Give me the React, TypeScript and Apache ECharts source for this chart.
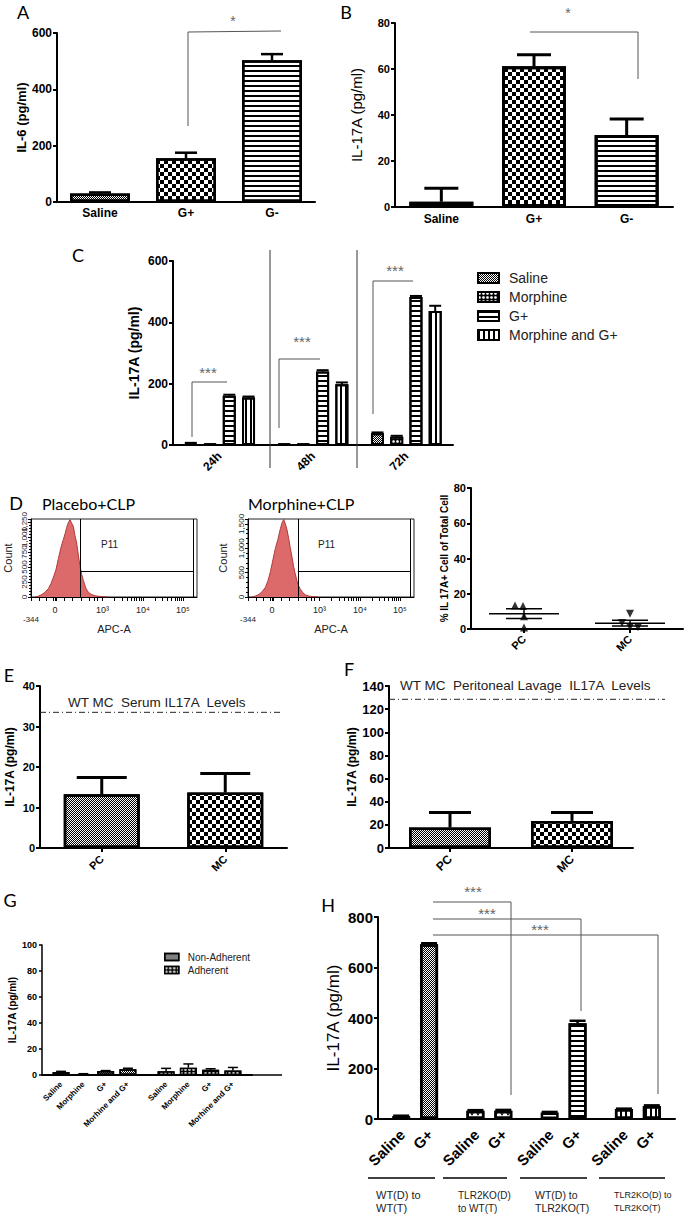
import React, { useEffect, useRef } from "react";
import * as echarts from "echarts";

// ---------------- DATA ----------------
// Panel A
const aCategories = ["Saline", "G+", "G-"];
const aIL6Mean = [30, 155, 503];
const aIL6Sem = [4, 20, 22];
// Panel B
const bCategories = ["Saline", "G+", "G-"];
const bIL17Mean = [2.3, 61.2, 31.3];
const bIL17Sem = [5.8, 5.0, 7.0];
// Panel C
const cTimes = ["24h", "48h", "72h"];
const cGroups = ["Saline", "Morphine", "G+", "Morphine and G+"];
const cSalineMean = [5, 2, 38];
const cMorphineMean = [2, 2, 27];
const cGplusMean = [161, 240, 483];
const cMorphGplusMean = [155, 198, 437];
const cSalineSem = [2, 1, 3];
const cMorphineSem = [1, 1, 3];
const cGplusSem = [3, 4, 3];
const cMorphGplusSem = [3, 6, 17];
// Panel D (flow histograms, APC-A display units 0-100)
const apcPlacebo = [2.5, 4.5, 6.5, 8.5, 10.5, 12, 13.5, 15, 16.5, 18, 19.5, 20.5, 21.5, 22.5, 23.5, 24.5, 25.5, 26.5, 27.5, 28.5, 29.5, 30.5, 31.5, 33, 34.5, 36.5, 39, 42, 46];
const countPlacebo = [0, 15, 40, 80, 140, 220, 330, 450, 640, 820, 960, 1050, 1160, 1240, 1290, 1230, 1180, 1020, 900, 700, 520, 380, 280, 150, 80, 40, 18, 8, 0];
const apcMorphine = [2.5, 4.5, 6.5, 8.5, 10.5, 12, 13.5, 15, 16.5, 18, 19.5, 20.5, 21.5, 22.5, 23.5, 24.5, 25.5, 26.5, 27.5, 28.5, 29.5, 30.5, 31.5, 33, 34.5, 36.5, 39, 42];
const countMorphine = [0, 20, 50, 110, 200, 330, 520, 760, 1000, 1180, 1400, 1520, 1590, 1500, 1380, 1200, 1000, 820, 620, 470, 330, 230, 160, 90, 45, 20, 8, 0];
const apcTickValues = [0, 14.5, 43, 67.5, 91.5];
const apcTickLabels = ["-344", "0", "10³", "10⁴", "10⁵"];
const apcMinorTicks = [0, 5, 9, 13.5, 14.5, 15.5, 20, 25, 30, 35, 38, 40, 43, 50.4, 54.7, 57.8, 60.1, 62.1, 63.7, 65.1, 66.3, 67.5, 74.9, 79.2, 82.3, 84.6, 86.6, 88.2, 89.6, 90.8, 91.5];
const gatePlacebo = [29.5, 97.6, 430];
const gateMorphine = [30, 97.6, 530];
const dGroups = ["PC", "MC"];
const dPcPercent = [13.3, 13.0, 7.2, 0.8];
const dMcPercent = [8.7, 3.4, 1.2, 1.0];
const dPcJitter = [-9, -1, 0, 0];
const dMcJitter = [0, -8, 0, 8];
const dMean = [8.7, 3.3];
const dSem = [2.8, 1.6];
// Panel E
const eGroups = ["PC", "MC"];
const eIL17Mean = [13.3, 13.7];
const eIL17Sem = [4.1, 4.7];
const eWtLevel = 33.5;
// Panel F
const fGroups = ["PC", "MC"];
const fIL17Mean = [17.7, 23.4];
const fIL17Sem = [12.9, 7.2];
const fWtLevel = 128.5;
// Panel G
const gGroups = ["Non-Adherent", "Adherent"];
const gConditions = ["Saline", "Morphine", "G+", "Morhine and G+"];
const gMeans = [
  [2.2, 2.8],
  [0.5, 5.6],
  [3.0, 4.0],
  [4.5, 3.5],
];
const gSems = [
  [0.6, 2.3],
  [0.5, 2.9],
  [0.4, 0.8],
  [0.7, 2.3],
];
// Panel H
const hGroups = ["WT(D) to WT(T)", "TLR2KO(D) to WT(T)", "WT(D) to TLR2KO(T)", "TLR2KO(D) to TLR2KO(T)"];
const hTreatments = ["Saline", "G+"];
const hSalineMean = [12, 33, 26, 40];
const hGplusMean = [692, 33, 379, 51];
const hSalineSem = [1, 2, 2, 1];
const hGplusSem = [4, 3, 10, 3];

// ---------------- STYLE ----------------
const FONT = "'Liberation Sans', Arial, Helvetica, sans-serif";
const CAL = "Lato, 'Open Sans', sans-serif";

const decalFine = { symbol: "rect", symbolSize: 1, dashArrayX: [[1, 1], [0, 1, 1, 0]], dashArrayY: [1, 0], color: "#000" };
const decalChecker = { symbol: "rect", symbolSize: 1, dashArrayX: [[4, 4], [0, 4, 4, 0]], dashArrayY: [4, 0], color: "#000" };
const decalHStripe = { symbol: "rect", symbolSize: 1, symbolKeepAspect: false, dashArrayX: [20, 0], dashArrayY: [1.5, 2.5], color: "#000" };
const decalVStripe = { symbol: "rect", symbolSize: 1, symbolKeepAspect: false, dashArrayX: [1.5, 2.5], dashArrayY: [20, 0], color: "#000" };
const decalDots = { symbol: "circle", symbolSize: 0.9, dashArrayX: [3, 1], dashArrayY: [3, 1], color: "#fff" };
const decalTees = { symbol: "triangle", symbolSize: 0.9, dashArrayX: [4, 2], dashArrayY: [3, 3], rotation: Math.PI, color: "#000" };

function yVal(gridIndex: number, max: number, interval: number, name: string, nameGap: number, nameSize: number, nameBold: boolean, labelSize: number, extra: any = {}) {
  return {
    type: "value",
    gridIndex,
    min: 0,
    max,
    interval,
    name,
    nameLocation: "middle",
    nameRotate: 90,
    nameGap,
    nameTextStyle: { fontFamily: FONT, fontSize: nameSize, fontWeight: nameBold ? "bold" : "normal", color: "#000" },
    axisLine: { show: true, lineStyle: { color: "#000", width: 2 } },
    axisTick: { show: true, length: 4, lineStyle: { color: "#000", width: 2 } },
    axisLabel: { fontFamily: FONT, fontSize: labelSize, fontWeight: "bold", color: "#000", margin: 5 },
    splitLine: { show: false },
    ...extra,
  };
}

function xCat(gridIndex: number, data: string[], labelSize: number, opts: any = {}) {
  return {
    type: "category",
    gridIndex,
    data,
    axisLine: { show: true, lineStyle: { color: "#000", width: 2 } },
    axisTick: { show: !!opts.tick, alignWithLabel: true, length: 4, lineStyle: { color: "#000", width: 2 } },
    axisLabel: {
      show: opts.hideLabel ? false : true,
      fontFamily: FONT,
      fontSize: labelSize,
      fontWeight: "bold",
      color: "#000",
      rotate: opts.rotate || 0,
      margin: opts.margin ?? 5,
      interval: 0,
    },
    splitLine: { show: false },
  };
}

function errBars(axis: number, means: number[], sems: number[], offset: number, cap: number, lw: number) {
  return {
    type: "custom",
    xAxisIndex: axis,
    yAxisIndex: axis,
    z: 5,
    silent: true,
    data: means.map((m, i) => [i, m, m + sems[i]]),
    encode: { x: 0, y: [1, 2] },
    renderItem: (_p: any, api: any) => {
      const a = api.coord([api.value(0), api.value(1)]);
      const b = api.coord([api.value(0), api.value(2)]);
      const x = a[0] + offset;
      const st = { stroke: "#000", lineWidth: lw };
      return {
        type: "group",
        children: [
          { type: "line", shape: { x1: x, y1: a[1], x2: x, y2: b[1] }, style: st },
          { type: "line", shape: { x1: x - cap / 2, y1: b[1], x2: x + cap / 2, y2: b[1] }, style: st },
        ],
      };
    },
  };
}

// rotated (45°) labels under each bar of a grouped bar chart
function barLabels(axis: number, groups: string[], label: string, offset: number, dist: number, size: number) {
  return {
    type: "custom",
    xAxisIndex: axis,
    yAxisIndex: axis,
    z: 6,
    silent: true,
    data: groups.map((_g, i) => [i, 0]),
    encode: { x: 0, y: 1 },
    renderItem: (_p: any, api: any) => {
      const c = api.coord([api.value(0), 0]);
      return {
        type: "text",
        x: c[0] + offset,
        y: c[1] + dist,
        rotation: Math.PI / 4,
        style: { text: label, align: "right", verticalAlign: "middle", fontFamily: FONT, fontSize: size, fontWeight: "bold", fill: "#000" },
      };
    },
  };
}

function histAxes(gridIndex: number, max: number, interval: number, nameGap: number) {
  const x = {
    type: "value",
    gridIndex,
    min: 0,
    max: 100,
    name: "APC-A",
    nameLocation: "middle",
    nameGap: 25,
    nameTextStyle: { fontFamily: FONT, fontSize: 11, color: "#222" },
    axisLine: { show: true, lineStyle: { color: "#000", width: 1 } },
    axisTick: { show: true, customValues: apcMinorTicks, length: 4, lineStyle: { color: "#000", width: 1 } },
    axisLabel: {
      customValues: apcTickValues,
      margin: 8,
      fontFamily: FONT,
      fontSize: 9,
      color: "#222",
      formatter: (v: number) => {
        const i = apcTickValues.indexOf(v);
        const t = i >= 0 ? apcTickLabels[i] : "";
        return i === 0 ? "{low|" + t + "}" : t;
      },
      rich: { low: { fontSize: 8, padding: [10, 0, 0, 0], fontFamily: FONT, color: "#222" } },
    },
    splitLine: { show: false },
  };
  const y = {
    type: "value",
    gridIndex,
    min: 0,
    max,
    interval,
    name: "Count",
    nameLocation: "middle",
    nameRotate: 90,
    nameGap,
    nameTextStyle: { fontFamily: FONT, fontSize: 11, color: "#222" },
    axisLine: { show: true, lineStyle: { color: "#000", width: 1 } },
    axisTick: { show: true, length: 3, lineStyle: { color: "#000", width: 1 } },
    minorTick: { show: true, splitNumber: 5, length: 2, lineStyle: { color: "#000", width: 1 } },
    axisLabel: { rotate: 90, fontSize: 8, margin: 3, fontFamily: FONT, color: "#222", showMaxLabel: false },
    splitLine: { show: false },
  };
  return [x, y];
}

function histSeries(axis: number, xs: number[], ys: number[], gate: number[]) {
  return {
    type: "line",
    xAxisIndex: axis,
    yAxisIndex: axis,
    data: xs.map((x, i) => [x, ys[i]]),
    symbol: "none",
    lineStyle: { color: "#b23a3a", width: 1 },
    areaStyle: { color: "#dc6a6a", opacity: 1 },
    markLine: {
      silent: true,
      symbol: ["none", "none"],
      label: { show: false },
      lineStyle: { color: "#000", width: 1, type: "solid" },
      data: [
        { xAxis: gate[0] },
        { xAxis: gate[1] },
        [{ coord: [gate[0], gate[2]] }, { coord: [gate[1], gate[2]] }],
      ],
    },
  };
}

function buildOption() {
  const grids = [
    { left: 57, top: 33, width: 258, height: 169 }, // A
    { left: 395, top: 23, width: 278, height: 184 }, // B
    { left: 173, top: 261, width: 280, height: 184 }, // C
    { left: 31, top: 519, width: 166, height: 78, show: true, borderColor: "#222", borderWidth: 1 }, // D placebo
    { left: 248, top: 519, width: 166, height: 78, show: true, borderColor: "#222", borderWidth: 1 }, // D morphine
    { left: 471, top: 488, width: 212, height: 141 }, // D scatter
    { left: 40, top: 686, width: 247, height: 162 }, // E
    { left: 389, top: 686, width: 244, height: 162 }, // F
    { left: 42, top: 945, width: 210, height: 130 }, // G
    { left: 378, top: 917, width: 297, height: 202 }, // H
    { left: -200, top: -200, width: 10, height: 10 }, // dummy for legend
  ];
  const [hpx, hpy] = histAxes(3, 1300, 250, 18);
  const [hmx, hmy] = histAxes(4, 1600, 500, 20);
  const xAxis = [
    xCat(0, aCategories, 12, { margin: 5 }),
    xCat(1, bCategories, 12, { margin: 6 }),
    xCat(2, cTimes, 12, { rotate: 45, margin: 9 }),
    hpx,
    hmx,
    xCat(5, dGroups, 11, { rotate: 45, margin: 8, tick: true }),
    xCat(6, eGroups, 11, { rotate: 45, margin: 9, tick: true }),
    xCat(7, fGroups, 12, { rotate: 45, margin: 9, tick: true }),
    xCat(8, gGroups, 8, { hideLabel: true }),
    xCat(9, hGroups, 12, { hideLabel: true }),
    { type: "category", gridIndex: 10, show: false, data: ["x"] },
  ];
  const yAxis = [
    yVal(0, 600, 200, "IL-6 (pg/ml)", 22, 13, true, 12),
    yVal(1, 80, 20, "IL-17A (pg/ml)", 31, 15, false, 11),
    yVal(2, 600, 200, "IL-17A (pg/ml)", 32, 14, true, 12),
    hpy,
    hmy,
    yVal(5, 80, 20, "% IL 17A+ Cell of Total Cell", 22, 10, true, 11),
    yVal(6, 40, 10, "IL-17A (pg/ml)", 24, 12, true, 11),
    yVal(7, 140, 20, "IL-17A (pg/ml)", 26, 12, true, 13),
    yVal(8, 100, 20, "IL-17A (pg/ml)", 25, 10, true, 9, { axisTick: { show: true, length: 3, lineStyle: { color: "#000", width: 1.5 } }, axisLine: { show: true, lineStyle: { color: "#000", width: 1.5 } } }),
    yVal(9, 800, 200, "IL-17A (pg/ml)", 36, 17, false, 15),
    { type: "value", gridIndex: 10, show: false },
  ];

  const series: any[] = [];
  // A
  const aDecals = [decalFine, decalChecker, decalHStripe];
  series.push({
    type: "bar", name: "A", xAxisIndex: 0, yAxisIndex: 0, barWidth: 60,
    itemStyle: { color: "#fff", borderColor: "#000", borderWidth: 2.5 },
    data: aIL6Mean.map((v, i) => ({ value: v, itemStyle: { decal: aDecals[i] } })),
  });
  series.push(errBars(0, aIL6Mean, aIL6Sem, 0, 22, 2.5));
  // B
  series.push({
    type: "bar", name: "B", xAxisIndex: 1, yAxisIndex: 1, barWidth: 64,
    itemStyle: { color: "#fff", borderColor: "#000", borderWidth: 3 },
    data: bIL17Mean.map((v, i) => ({ value: v, itemStyle: { decal: aDecals[i] } })),
  });
  series.push(errBars(1, bIL17Mean, bIL17Sem, 0, 34, 3));
  // C
  const cMeans = [cSalineMean, cMorphineMean, cGplusMean, cMorphGplusMean];
  const cSems = [cSalineSem, cMorphineSem, cGplusSem, cMorphGplusSem];
  const cDecals = [decalFine, decalDots, decalHStripe, decalVStripe];
  const cBase = ["#fff", "#000", "#fff", "#fff"];
  cGroups.forEach((name, k) => {
    series.push({
      type: "bar", name, xAxisIndex: 2, yAxisIndex: 2, barWidth: 13, barGap: "48%",
      itemStyle: { color: cBase[k], borderColor: "#000", borderWidth: 2, decal: cDecals[k] },
      data: cMeans[k],
    });
  });
  cGroups.forEach((_n, k) => series.push(errBars(2, cMeans[k], cSems[k], (k - 1.5) * 19.24, 12, 2)));
  // D histograms
  series.push(histSeries(3, apcPlacebo, countPlacebo, gatePlacebo));
  series.push(histSeries(4, apcMorphine, countMorphine, gateMorphine));
  // D scatter
  series.push({
    type: "scatter", name: "PC points", xAxisIndex: 5, yAxisIndex: 5, symbol: "triangle", symbolSize: 8,
    itemStyle: { color: "#000" },
    data: dPcPercent.map((v, i) => ({ value: [0, v], symbolOffset: [dPcJitter[i], 0] })),
  });
  series.push({
    type: "scatter", name: "MC points", xAxisIndex: 5, yAxisIndex: 5, symbol: "triangle", symbolSize: 8, symbolRotate: 180,
    itemStyle: { color: "#000" },
    data: dMcPercent.map((v, i) => ({ value: [1, v], symbolOffset: [dMcJitter[i], 0] })),
  });
  series.push({
    type: "custom", xAxisIndex: 5, yAxisIndex: 5, silent: true, z: 4,
    data: dMean.map((m, i) => [i, m, m - dSem[i], m + dSem[i]]),
    encode: { x: 0, y: [1, 2, 3] },
    renderItem: (_p: any, api: any) => {
      const c = api.coord([api.value(0), api.value(1)]);
      const lo = api.coord([api.value(0), api.value(2)]);
      const hi = api.coord([api.value(0), api.value(3)]);
      const st = { stroke: "#000", lineWidth: 1.5 };
      return {
        type: "group",
        children: [
          { type: "line", shape: { x1: c[0] - 35, y1: c[1], x2: c[0] + 35, y2: c[1] }, style: st },
          { type: "line", shape: { x1: c[0] - 18, y1: lo[1], x2: c[0] + 18, y2: lo[1] }, style: st },
          { type: "line", shape: { x1: c[0] - 18, y1: hi[1], x2: c[0] + 18, y2: hi[1] }, style: st },
          { type: "line", shape: { x1: c[0], y1: lo[1], x2: c[0], y2: hi[1] }, style: st },
        ],
      };
    },
  });
  // E
  const efDecals = [decalFine, decalChecker];
  series.push({
    type: "bar", name: "E", xAxisIndex: 6, yAxisIndex: 6, barWidth: 76,
    itemStyle: { color: "#fff", borderColor: "#000", borderWidth: 2.5 },
    data: eIL17Mean.map((v, i) => ({ value: v, itemStyle: { decal: efDecals[i] } })),
  });
  series.push(errBars(6, eIL17Mean, eIL17Sem, 0, 50, 3));
  // F
  series.push({
    type: "bar", name: "F", xAxisIndex: 7, yAxisIndex: 7, barWidth: 82,
    itemStyle: { color: "#fff", borderColor: "#000", borderWidth: 2.5 },
    data: fIL17Mean.map((v, i) => ({ value: v, itemStyle: { decal: efDecals[i] } })),
  });
  series.push(errBars(7, fIL17Mean, fIL17Sem, 0, 42, 3));
  // G
  const gDecals = [decalFine, decalDots];
  const gBase = ["#fff", "#000"];
  gConditions.forEach((cond, k) => {
    series.push({
      type: "bar", name: "G " + cond, xAxisIndex: 8, yAxisIndex: 8, barWidth: 17, barGap: "31%",
      itemStyle: { borderColor: "#000", borderWidth: 1.5 },
      data: gMeans[k].map((v, i) => ({ value: v, itemStyle: { color: gBase[i], decal: gDecals[i] } })),
    });
  });
  gConditions.forEach((_c, k) => series.push(errBars(8, gMeans[k], gSems[k], (k - 1.5) * 22.27, 10, 1.5)));
  gConditions.forEach((cond, k) => series.push(barLabels(8, gGroups, cond, (k - 1.5) * 22.27, 8, 8)));
  // legend dummies for G
  series.push({ type: "bar", name: "Non-Adherent", xAxisIndex: 10, yAxisIndex: 10, data: [], itemStyle: { color: "#fff", borderColor: "#000", borderWidth: 1.5, decal: decalFine } });
  series.push({ type: "bar", name: "Adherent", xAxisIndex: 10, yAxisIndex: 10, data: [], itemStyle: { color: "#000", borderColor: "#000", borderWidth: 1.5, decal: decalDots } });
  // H
  const hSalStyle = [
    { color: "#fff" },
    { color: "#fff", decal: decalTees },
    { color: "#fff" },
    { color: "#fff", decal: decalVStripe },
  ];
  const hGStyle = [
    { color: "#fff", decal: decalFine },
    { color: "#fff", decal: decalTees },
    { color: "#fff", decal: decalHStripe },
    { color: "#fff", decal: decalVStripe },
  ];
  const hMeans = [hSalineMean, hGplusMean];
  const hSems = [hSalineSem, hGplusSem];
  const hStyles = [hSalStyle, hGStyle];
  hTreatments.forEach((t, k) => {
    series.push({
      type: "bar", name: "H " + t, xAxisIndex: 9, yAxisIndex: 9, barWidth: 18, barGap: "55%",
      itemStyle: { borderColor: "#000", borderWidth: 2.5 },
      data: hMeans[k].map((v, i) => ({ value: v, itemStyle: hStyles[k][i] })),
    });
  });
  hTreatments.forEach((_t, k) => series.push(errBars(9, hMeans[k], hSems[k], (k - 0.5) * 27.9, 16, 2.5)));
  hTreatments.forEach((t, k) => series.push(barLabels(9, hGroups, t, (k - 0.5) * 27.9 + 1, 13, 15)));

  return {
    animation: false,
    backgroundColor: "#fff",
    textStyle: { fontFamily: FONT },
    grid: grids,
    xAxis,
    yAxis,
    legend: [
      {
        data: cGroups, orient: "vertical", left: 472, top: 266, itemWidth: 21, itemHeight: 10, itemGap: 5, icon: "rect",
        selectedMode: false, itemStyle: { borderColor: "#000", borderWidth: 2 },
        textStyle: { fontFamily: FONT, fontSize: 14, color: "#222", padding: [0, 0, 0, 5] },
      },
      {
        data: ["Non-Adherent", "Adherent"], orient: "vertical", left: 159, top: 947, itemWidth: 14, itemHeight: 7, itemGap: 3, icon: "rect",
        selectedMode: false, itemStyle: { borderColor: "#000", borderWidth: 1.5 },
        textStyle: { fontFamily: FONT, fontSize: 10, color: "#222", padding: [0, 0, 0, 4] },
      },
    ],
    series,
  };
}

function buildGraphics(eY: number, fY: number) {
  const els: any[] = [];
  const text = (x: number, y: number, t: string, size: number, extra: any = {}) =>
    els.push({ type: "text", x, y, z: 20, silent: true, style: { text: t, fontSize: size, fontFamily: FONT, fill: "#000", align: "left", verticalAlign: "middle", ...extra } });
  const poly = (pts: number[][], stroke = "#555", lw = 1, extra: any = {}) =>
    els.push({ type: "polyline", z: 20, silent: true, shape: { points: pts }, style: { stroke, lineWidth: lw, fill: null, ...extra } });

  // panel letters
  [["A", 23, 12], ["B", 346, 12], ["C", 78, 255], ["D", 16, 503], ["E", 9, 675], ["F", 349, 669], ["G", 10, 900], ["H", 328, 905]].forEach(
    ([l, x, y]: any) => text(x, y, l, 18, { fontFamily: CAL, align: "center" })
  );
  // A / B brackets
  poly([[188, 126], [188, 32], [281, 31]]);
  text(233, 21, "*", 14, { align: "center", fill: "#666" });
  poly([[530, 32], [638, 32], [638, 79]]);
  text(568, 13, "*", 14, { align: "center", fill: "#666" });
  // C brackets + separators
  poly([[192, 437], [192, 382], [227, 382]]);
  text(208, 372, "***", 15, { align: "center", fill: "#666" });
  poly([[279, 428], [279, 359], [320, 359]]);
  text(302, 341, "***", 15, { align: "center", fill: "#666" });
  poly([[373, 414], [373, 281], [413, 281]]);
  text(395, 270, "***", 15, { align: "center", fill: "#666" });
  poly([[270, 250], [270, 468]], "#333", 1);
  poly([[357, 250], [357, 468]], "#333", 1);
  // D titles
  text(42, 503, "Placebo+CLP", 16, { fontFamily: CAL });
  text(248, 503, "Morphine+CLP", 16, { fontFamily: CAL });
  text(101, 544, "P11", 10, { fill: "#222" });
  text(318, 544, "P11", 10, { fill: "#222" });
  // E / F threshold lines
  poly([[40, eY], [283, eY]], "#222", 1, { lineDash: [6, 3, 1, 3] });
  text(68, 702, "WT MC  Serum IL17A  Levels", 13.5, { fill: "#222" });
  poly([[389, fY], [665, fY]], "#222", 1, { lineDash: [6, 3, 1, 3] });
  text(400, 685, "WT MC  Peritoneal Lavage  IL17A  Levels", 13.5, { fill: "#222" });
  // G axis extension
  poly([[252, 1075], [282, 1075]], "#000", 1.5);
  // H brackets
  poly([[433, 902], [511, 902], [511, 1095]]);
  poly([[433, 919], [581, 919], [581, 1011]]);
  poly([[433, 935], [658, 935], [658, 1094]]);
  text(473, 891, "***", 15, { align: "center", fill: "#666" });
  text(487, 913, "***", 15, { align: "center", fill: "#666" });
  text(540, 929, "***", 15, { align: "center", fill: "#666" });
  // H group underlines + labels
  poly([[368, 1178], [435, 1178]], "#000", 1.5);
  poly([[443, 1178], [507, 1178]], "#000", 1.5);
  poly([[520, 1178], [587, 1178]], "#000", 1.5);
  poly([[599, 1178], [665, 1178]], "#000", 1.5);
  text(376, 1195, "WT(D) to", 11, { fill: "#222" });
  text(376, 1208, "WT(T)", 11, { fill: "#222" });
  text(458, 1195, "TLR2KO(D)", 10, { fill: "#222" });
  text(458, 1208, "to WT(T)", 10, { fill: "#222" });
  text(535, 1195, "WT(D) to", 10.5, { fill: "#222" });
  text(535, 1208, "TLR2KO(T)", 10.5, { fill: "#222" });
  text(614, 1195, "TLR2KO(D) to", 9, { fill: "#222" });
  text(614, 1208, "TLR2KO(T)", 9, { fill: "#222" });
  return els;
}

export default function App() {
  const ref = useRef<HTMLDivElement>(null);
  useEffect(() => {
    const chart = echarts.init(ref.current as HTMLDivElement, null, { renderer: "svg" });
    chart.setOption(buildOption() as any);
    const eY = chart.convertToPixel({ yAxisIndex: 6 } as any, eWtLevel) as unknown as number;
    const fY = chart.convertToPixel({ yAxisIndex: 7 } as any, fWtLevel) as unknown as number;
    chart.setOption({ graphic: { elements: buildGraphics(eY, fY) } } as any);
    return () => chart.dispose();
  }, []);
  return <div ref={ref} style={{ position: "absolute", left: 0, top: 0, width: 685, height: 1218, background: "#fff" }} />;
}
